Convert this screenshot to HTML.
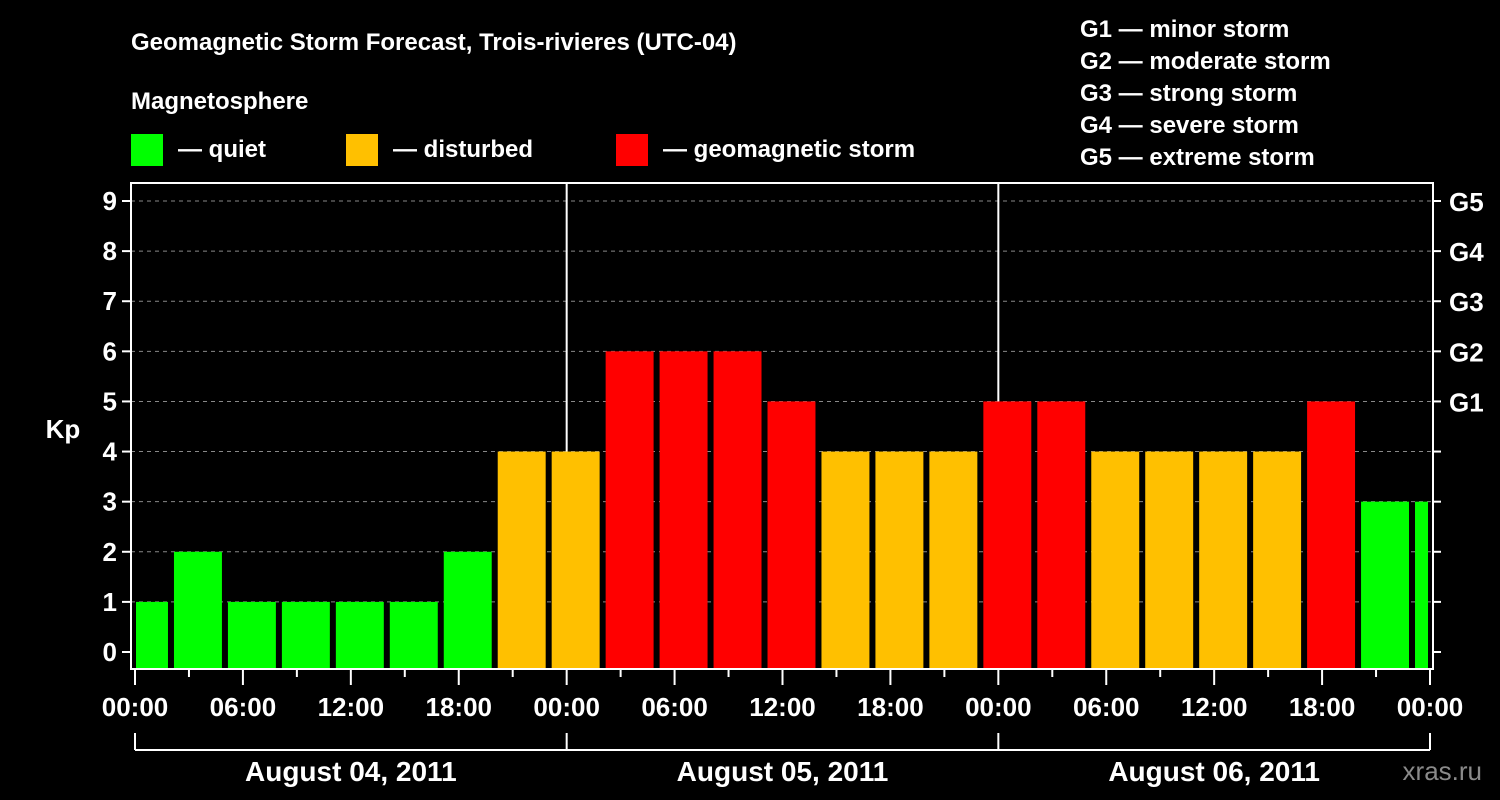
<!DOCTYPE html>
<html><head><meta charset="utf-8"><style>
html,body{margin:0;padding:0;background:#000;width:1500px;height:800px;overflow:hidden}
svg text{font-family:"Liberation Sans",Arial,sans-serif;font-weight:bold;fill:#fff}
</style></head><body>
<svg id="chart" width="1500" height="800" viewBox="0 0 1500 800" xmlns="http://www.w3.org/2000/svg">
<text x="131" y="50" font-size="24">Geomagnetic Storm Forecast, Trois-rivieres (UTC-04)</text>
<text x="131" y="109" font-size="24">Magnetosphere</text>
<g><rect x="131" y="134" width="32" height="32" fill="#00ff00"/><text x="178" y="157" font-size="24">— quiet</text></g>
<g><rect x="346" y="134" width="32" height="32" fill="#ffc000"/><text x="393" y="157" font-size="24">— disturbed</text></g>
<g><rect x="616" y="134" width="32" height="32" fill="#ff0000"/><text x="663" y="157" font-size="24">— geomagnetic storm</text></g>
<g font-size="24">
<text x="1080" y="37">G1 — minor storm</text>
<text x="1080" y="69">G2 — moderate storm</text>
<text x="1080" y="101">G3 — strong storm</text>
<text x="1080" y="133">G4 — severe storm</text>
<text x="1080" y="165">G5 — extreme storm</text>
</g>
<text x="63" y="438" font-size="26" text-anchor="middle">Kp</text>
<text x="1482" y="780" font-size="26" text-anchor="end" fill="#888" style="fill:#8a8a8a;font-weight:normal">xras.ru</text>
<g id="grid"></g><g id="bars"></g><g id="axes"></g>
</svg>
<script>
const kpValues=[1,2,1,1,1,1,2,4,4,6,6,6,5,4,4,4,5,5,4,4,4,4,5,3,3];
const barStartHours=[-1,2,5,8,11,14,17,20,23,26,29,32,35,38,41,44,47,50,53,56,59,62,65,68,71];
const yTicks=[0,1,2,3,4,5,6,7,8,9];
const gLabels=["G1","G2","G3","G4","G5"];
const gLevels=[5,6,7,8,9];
const xTickLabels=["00:00","06:00","12:00","18:00","00:00","06:00","12:00","18:00","00:00","06:00","12:00","18:00","00:00"];
const dayLabels=["August 04, 2011","August 05, 2011","August 06, 2011"];
const NS="http://www.w3.org/2000/svg";
const L=131,R=1433,T=183,B=669;
const x=h=>135+h*(1430-135)/72;
const y=v=>652-v*(652-201)/9;
function mk(p,tag,a){const e=document.createElementNS(NS,tag);for(const k in a)e.setAttribute(k,a[k]);p.appendChild(e);return e;}
const grid=document.getElementById('grid'),bars=document.getElementById('bars'),axes=document.getElementById('axes');
yTicks.forEach(v=>{if(v>0){const l=mk(grid,'line',{x1:L,x2:R,y1:y(v),y2:y(v),stroke:'#888','stroke-dasharray':'4,4','stroke-width':1});

}});
[24,48].forEach(h=>{const l=mk(grid,'line',{x1:x(h),x2:x(h),y1:T,y2:B,stroke:'#fff','stroke-width':2});

});
const step=(1430-135)/72;
kpValues.forEach((v,i)=>{const h=barStartHours[i];let x0=x(h)+3,x1=x(h+3)-3;x0=Math.max(x0,L+5);x1=Math.min(x1,R-5);
const c=v>=5?'#ff0000':(v>=4?'#ffc000':'#00ff00');
const r=mk(bars,'rect',{x:x0,y:y(v),width:x1-x0,height:B-1-y(v),fill:c});

});
const frame=mk(axes,'rect',{x:L,y:T,width:R-L,height:B-T,fill:'none',stroke:'#fff','stroke-width':2});


yTicks.forEach(v=>{mk(axes,'line',{x1:L-9,x2:L,y1:y(v),y2:y(v),stroke:'#fff','stroke-width':2});
mk(axes,'line',{x1:R,x2:R+8,y1:y(v),y2:y(v),stroke:'#fff','stroke-width':2});
const t=mk(axes,'text',{x:L-14,y:y(v)+9,'font-size':26,'text-anchor':'end'});t.textContent=v;

});
gLevels.forEach((v,i)=>{const t=mk(axes,'text',{x:R+16,y:y(v)+10,'font-size':26});t.textContent=gLabels[i];

});
for(let h=0;h<=72;h+=3){const maj=h%6===0;mk(axes,'line',{x1:x(h),x2:x(h),y1:B,y2:B+(maj?16:8),stroke:'#fff','stroke-width':2});}
xTickLabels.forEach((s,i)=>{const t=mk(axes,'text',{x:x(i*6),y:716,'font-size':26,'text-anchor':'middle'});t.textContent=s;

});
mk(axes,'line',{x1:x(0),x2:x(72),y1:750,y2:750,stroke:'#fff','stroke-width':2});
[0,24,48,72].forEach(h=>mk(axes,'line',{x1:x(h),x2:x(h),y1:733,y2:750,stroke:'#fff','stroke-width':2}));
dayLabels.forEach((s,i)=>{const t=mk(axes,'text',{x:x(i*24+12),y:781,'font-size':28,'text-anchor':'middle'});t.textContent=s;

});
</script>
</body></html>
